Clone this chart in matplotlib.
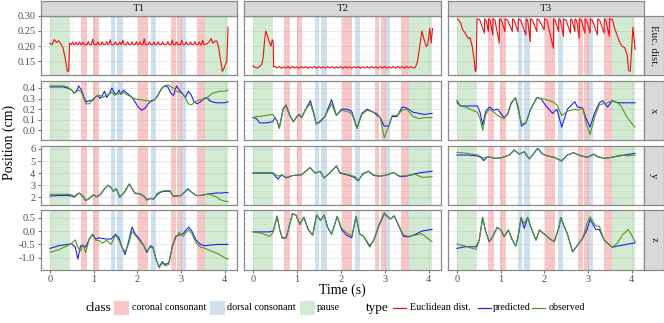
import matplotlib
matplotlib.use("Agg")
import matplotlib.pyplot as plt
from matplotlib.patches import Rectangle
from matplotlib.lines import Line2D
from matplotlib.ticker import MultipleLocator, FixedLocator

plt.rcParams['font.family'] = ['Liberation Serif', 'DejaVu Serif']

# ---------------- data ----------------
columns = ["T1", "T2", "T3"]
rows_lab = ["Euc. dist.", "x", "y", "z"]

coronal_start = [0.705, 0.995, 2.025, 2.78, 2.92, 3.375]
coronal_end = [0.84, 1.125, 2.25, 2.88, 3.025, 3.55]
dorsal_start = [1.41, 1.545, 2.32, 3.025]
dorsal_end = [1.50, 1.68, 2.43, 3.12]
pause_start = [0.0, 3.55]
pause_end = [0.45, 4.08]

# Euclidean distance
euc1_t = [0.00, 0.05, 0.10, 0.15, 0.20, 0.25, 0.30, 0.35, 0.40, 0.43, 0.45,
          0.49, 0.52, 0.55, 0.57, 0.60, 0.63, 0.65, 0.68, 0.71, 0.73, 0.76, 0.79,
          0.85, 0.88, 0.91, 0.95, 0.98, 1.01, 1.07, 1.10, 1.13, 1.17, 1.20, 1.23,
          1.27, 1.30, 1.33, 1.35, 1.38, 1.41, 1.47, 1.50, 1.53, 1.57, 1.60, 1.63,
          1.64, 1.67, 1.70, 1.75, 1.78, 1.81, 1.85, 1.88, 1.91, 1.95, 1.98, 2.01,
          2.03, 2.06, 2.09, 2.13, 2.16, 2.19, 2.25, 2.28, 2.31, 2.35, 2.38, 2.41,
          2.45, 2.48, 2.51, 2.55, 2.58, 2.61, 2.67, 2.70, 2.73, 2.77, 2.80, 2.83,
          2.87, 2.90, 2.93, 2.99, 3.02, 3.05, 3.09, 3.12, 3.15, 3.19, 3.22, 3.25,
          3.29, 3.32, 3.35, 3.39, 3.42, 3.45, 3.47, 3.50, 3.53,
          3.60, 3.65, 3.69, 3.73, 3.78, 3.82, 3.86, 3.90, 3.95, 3.98, 4.02, 4.05, 4.08]
euc1_v = [0.210, 0.205, 0.222, 0.212, 0.218, 0.208, 0.195, 0.160, 0.117, 0.118, 0.210,
          0.205, 0.214, 0.205, 0.205, 0.213, 0.205, 0.205, 0.214, 0.205, 0.205, 0.213, 0.205,
          0.205, 0.215, 0.205, 0.205, 0.223, 0.205, 0.205, 0.214, 0.205, 0.205, 0.214, 0.205,
          0.205, 0.215, 0.205, 0.205, 0.221, 0.205, 0.205, 0.214, 0.205, 0.205, 0.214, 0.205,
          0.205, 0.220, 0.205, 0.205, 0.214, 0.205, 0.205, 0.214, 0.205, 0.205, 0.215, 0.205,
          0.205, 0.214, 0.205, 0.205, 0.224, 0.205, 0.205, 0.214, 0.205, 0.205, 0.214, 0.205,
          0.205, 0.215, 0.205, 0.205, 0.214, 0.205, 0.205, 0.215, 0.205, 0.205, 0.220, 0.205,
          0.205, 0.214, 0.205, 0.205, 0.219, 0.205, 0.205, 0.214, 0.205, 0.205, 0.214, 0.205,
          0.205, 0.215, 0.205, 0.205, 0.214, 0.205, 0.205, 0.219, 0.205,
          0.208, 0.215, 0.225, 0.210, 0.216, 0.217, 0.200, 0.160, 0.117, 0.125, 0.140, 0.150, 0.262]

euc2_t = [0.00, 0.05, 0.10, 0.15, 0.20, 0.23, 0.26, 0.29, 0.33, 0.37, 0.41, 0.44, 0.46, 0.47,
          0.50, 0.55, 0.60, 0.65, 0.70, 0.75, 0.80, 0.85, 0.90, 0.95, 1.00, 1.05, 1.10,
          1.15, 1.20, 1.25, 1.30, 1.35, 1.40, 1.45, 1.50, 1.55, 1.60, 1.65, 1.70, 1.75,
          1.80, 1.85, 1.90, 1.95, 2.00, 2.05, 2.10, 2.15, 2.20, 2.25, 2.30, 2.35, 2.40,
          2.45, 2.50, 2.55, 2.60, 2.65, 2.70, 2.75, 2.80, 2.85, 2.90, 2.95, 3.00, 3.05,
          3.10, 3.15, 3.20, 3.25, 3.30, 3.35, 3.40, 3.45, 3.50, 3.55, 3.60, 3.65, 3.70,
          3.75, 3.80, 3.85, 3.90, 3.95, 3.98, 4.03, 4.06, 4.09]
euc2_v = [0.135, 0.130, 0.128, 0.133, 0.140, 0.160, 0.210, 0.250, 0.235, 0.215, 0.200, 0.221, 0.215, 0.132,
          0.133, 0.128, 0.133, 0.127, 0.132, 0.128, 0.133, 0.127, 0.133, 0.128, 0.132, 0.127, 0.133,
          0.128, 0.133, 0.127, 0.132, 0.128, 0.133, 0.127, 0.133, 0.128, 0.132, 0.127, 0.133, 0.128,
          0.133, 0.127, 0.132, 0.128, 0.133, 0.127, 0.133, 0.128, 0.132, 0.127, 0.133, 0.128, 0.133,
          0.127, 0.132, 0.128, 0.133, 0.127, 0.133, 0.128, 0.132, 0.127, 0.133, 0.128, 0.133, 0.127,
          0.132, 0.128, 0.133, 0.127, 0.133, 0.128, 0.132, 0.127, 0.133, 0.128, 0.133, 0.128, 0.130,
          0.150, 0.200, 0.250, 0.221, 0.199, 0.205, 0.259, 0.210, 0.258]

euc3_t = [0.01, 0.08, 0.13, 0.20, 0.26, 0.30, 0.35, 0.40, 0.42, 0.44, 0.46,
          0.52, 0.63, 0.635, 0.67, 0.72, 0.725, 0.76, 0.82, 0.825, 0.87, 0.97, 0.975,
          1.02, 1.10, 1.105, 1.16, 1.27, 1.275, 1.31, 1.40, 1.405, 1.46, 1.58, 1.585,
          1.62, 1.68, 1.685, 1.73, 1.83, 1.835, 1.88, 2.00, 2.005, 2.06, 2.21, 2.215,
          2.25, 2.33, 2.335, 2.37, 2.44, 2.445, 2.50, 2.60, 2.605, 2.64, 2.70, 2.705,
          2.74, 2.80, 2.805, 2.85, 2.93, 2.935, 2.97, 3.05, 3.055, 3.10, 3.22, 3.225,
          3.27, 3.37, 3.375, 3.41, 3.49, 3.495, 3.56,
          3.62, 3.68, 3.72, 3.78, 3.84, 3.90, 3.93, 3.97, 4.03, 4.08]
euc3_v = [0.290, 0.278, 0.255, 0.240, 0.225, 0.228, 0.200, 0.150, 0.117, 0.120, 0.290,
          0.288, 0.243, 0.290, 0.285, 0.248, 0.290, 0.285, 0.237, 0.290, 0.286, 0.210, 0.290,
          0.285, 0.248, 0.290, 0.286, 0.248, 0.290, 0.285, 0.248, 0.290, 0.285, 0.237, 0.290,
          0.285, 0.215, 0.290, 0.286, 0.248, 0.290, 0.286, 0.254, 0.290, 0.286, 0.193, 0.290,
          0.285, 0.248, 0.290, 0.285, 0.232, 0.290, 0.285, 0.243, 0.290, 0.285, 0.248, 0.290,
          0.285, 0.226, 0.290, 0.285, 0.243, 0.290, 0.285, 0.243, 0.290, 0.285, 0.237, 0.290,
          0.285, 0.243, 0.290, 0.285, 0.232, 0.290, 0.288,
          0.255, 0.232, 0.215, 0.200, 0.195, 0.170, 0.120, 0.117, 0.262, 0.190]

# T1 articulator positions
t1_x_t = [0, 0.1, 0.2, 0.3, 0.4, 0.5, 0.56, 0.62, 0.66, 0.72, 0.78, 0.83, 0.9, 0.97, 1.03, 1.1,
          1.15, 1.2, 1.25, 1.3, 1.35, 1.42, 1.48, 1.53, 1.58, 1.63, 1.68, 1.74, 1.8, 1.88, 1.95,
          2.02, 2.1, 2.18, 2.25, 2.32, 2.4, 2.47, 2.55, 2.62, 2.7, 2.77, 2.83, 2.9, 2.96, 3.03,
          3.1, 3.17, 3.24, 3.3, 3.37, 3.45, 3.52, 3.6, 3.66, 3.72, 3.8, 3.9, 4.0, 4.08]
t1_x_pred = [0.41, 0.41, 0.41, 0.41, 0.40, 0.38, 0.35, 0.38, 0.42, 0.38, 0.31, 0.27, 0.28, 0.28,
             0.31, 0.33, 0.30, 0.33, 0.37, 0.31, 0.34, 0.40, 0.35, 0.34, 0.38, 0.34, 0.38, 0.36,
             0.34, 0.31, 0.27, 0.22, 0.19, 0.21, 0.25, 0.28, 0.29, 0.33, 0.39, 0.42, 0.41, 0.35,
             0.33, 0.42, 0.38, 0.35, 0.31, 0.37, 0.33, 0.27, 0.25, 0.27, 0.30, 0.31, 0.28, 0.27,
             0.26, 0.26, 0.26, 0.27]
t1_x_obs = [0.42, 0.42, 0.42, 0.42, 0.41, 0.38, 0.35, 0.37, 0.38, 0.36, 0.30, 0.25, 0.25, 0.29,
            0.31, 0.33, 0.33, 0.31, 0.32, 0.33, 0.34, 0.36, 0.33, 0.34, 0.35, 0.34, 0.36, 0.34,
            0.33, 0.31, 0.30, 0.29, 0.29, 0.28, 0.28, 0.27, 0.29, 0.33, 0.39, 0.42, 0.43, 0.41,
            0.40, 0.37, 0.36, 0.35, 0.31, 0.25, 0.24, 0.26, 0.28, 0.29, 0.29, 0.31, 0.33, 0.35,
            0.36, 0.37, 0.37, 0.38]

t1_y_t = [0, 0.2, 0.4, 0.5, 0.56, 0.62, 0.67, 0.75, 0.82, 0.9, 1.0, 1.07, 1.15, 1.25, 1.33, 1.4,
          1.45, 1.52, 1.6, 1.7, 1.82, 1.9, 1.95, 2.05, 2.15, 2.22, 2.3, 2.38, 2.45, 2.55, 2.65,
          2.75, 2.82, 2.9, 3.0, 3.08, 3.16, 3.25, 3.35, 3.45, 3.6, 3.7, 3.8, 3.9, 4.0, 4.08]
t1_y_pred = [2.1, 2.15, 2.15, 2.1, 2.0, 2.25, 2.35, 2.1, 1.72, 1.9, 2.2, 2.05, 2.2, 2.7, 3.0, 2.8,
             2.5, 2.7, 2.0, 2.4, 3.1, 2.6, 2.3, 2.3, 2.1, 1.8, 1.9, 1.85, 2.2, 2.45, 2.5, 2.5,
             2.1, 2.1, 2.15, 2.4, 2.7, 2.4, 2.15, 2.15, 2.25, 2.3, 2.35, 2.35, 2.38, 2.38]
t1_y_obs = [2.25, 2.25, 2.25, 2.2, 2.05, 2.2, 2.35, 2.15, 1.75, 1.9, 2.2, 2.05, 2.2, 2.7, 3.0, 2.8,
            2.5, 2.7, 2.0, 2.4, 3.1, 2.6, 2.35, 2.3, 2.1, 1.75, 1.9, 1.85, 2.3, 2.5, 2.55, 2.55,
            2.1, 2.1, 2.15, 2.4, 2.65, 2.4, 2.15, 2.15, 2.25, 2.2, 2.05, 1.8, 1.68, 1.65]

t1_z_t = [0, 0.2, 0.4, 0.5, 0.58, 0.64, 0.7, 0.76, 0.82, 0.9, 0.98, 1.05, 1.12, 1.2, 1.3, 1.4,
          1.5, 1.58, 1.65, 1.72, 1.8, 1.88, 1.95, 2.05, 2.15, 2.22, 2.3, 2.36, 2.42, 2.5, 2.57,
          2.64, 2.72, 2.8, 2.88, 2.96, 3.05, 3.12, 3.18, 3.25, 3.35, 3.45, 3.55, 3.7, 3.85, 4.0, 4.08]
t1_z_pred = [-0.65, -0.55, -0.5, -0.48, -0.6, -1.05, -0.55, -0.55, -0.6, -0.3, -0.12, -0.3, -0.25,
             -0.28, -0.3, -0.3, -0.12, -0.25, -0.6, -0.88, -0.4, 0.15, -0.1, -0.3, -0.55, -0.8,
             -0.55, -0.6, -1.0, -1.35, -1.15, -1.25, -1.2, -0.6, -0.2, -0.15, -0.1, 0.05, 0.15,
             0.0, -0.35, -0.5, -0.55, -0.52, -0.5, -0.5, -0.5]
t1_z_obs = [-0.8, -0.7, -0.55, -0.45, -0.33, -0.6, -0.75, -0.5, -0.8, -0.3, -0.15, -0.35, -0.35,
            -0.45, -0.35, -0.5, -0.15, -0.35, -0.6, -0.78, -0.5, 0.0, -0.15, -0.35, -0.55, -0.75,
            -0.6, -0.65, -1.0, -1.38, -1.2, -1.3, -1.25, -0.6, -0.25, -0.05, -0.2, -0.05, 0.05,
            -0.1, -0.45, -0.6, -0.65, -0.75, -0.85, -1.0, -1.05]

# T2
t2_x_t = [0, 0.08, 0.15, 0.3, 0.45, 0.5, 0.55, 0.6, 0.69, 0.75, 0.84, 0.92, 1.0, 1.05, 1.11, 1.2,
          1.31, 1.38, 1.44, 1.53, 1.64, 1.79, 1.9, 2.02, 2.14, 2.25, 2.37, 2.48, 2.6, 2.75, 2.83,
          2.9, 2.99, 3.09, 3.17, 3.28, 3.4, 3.5, 3.65, 3.78, 3.9, 4.08]
t2_x_pred = [0.12, 0.11, 0.07, 0.07, 0.08, 0.12, 0.09, 0.02, 0.2, 0.24, 0.14, 0.08, 0.13, 0.15,
             0.12, 0.2, 0.28, 0.17, 0.06, 0.08, 0.13, 0.29, 0.14, 0.2, 0.2, 0.18, 0.02, 0.16, 0.2,
             0.17, 0.14, 0.12, 0.04, 0.04, 0.13, 0.13, 0.22, 0.21, 0.17, 0.16, 0.15, 0.16]
t2_x_obs = [0.12, 0.13, 0.13, 0.14, 0.15, 0.12, 0.09, 0.02, 0.21, 0.23, 0.14, 0.08, 0.13, 0.14,
            0.12, 0.2, 0.25, 0.16, 0.06, 0.09, 0.13, 0.25, 0.14, 0.19, 0.18, 0.16, 0.02, 0.15,
            0.19, 0.17, 0.16, 0.12, -0.07, 0.03, 0.14, 0.14, 0.19, 0.2, 0.13, 0.11, 0.12, 0.12]

t2_y_t = [0, 0.3, 0.45, 0.57, 0.65, 0.76, 0.9, 1.1, 1.3, 1.42, 1.53, 1.62, 1.75, 1.9, 1.98, 2.2,
          2.33, 2.4, 2.5, 2.63, 2.75, 2.9, 3.05, 3.2, 3.35, 3.5, 3.7, 3.85, 4.08]
t2_y_pred = [4.0, 4.0, 4.0, 3.5, 3.85, 3.6, 3.8, 3.85, 4.45, 4.0, 4.15, 3.6, 4.0, 4.6, 4.0, 3.8,
             3.6, 3.35, 3.95, 4.15, 3.8, 3.75, 3.85, 4.05, 3.7, 3.75, 3.95, 4.05, 4.15]
t2_y_obs = [4.05, 4.05, 4.05, 3.75, 3.85, 3.65, 3.8, 3.85, 4.45, 4.0, 4.15, 3.6, 4.0, 4.6, 4.05,
            3.85, 3.7, 3.4, 3.9, 4.15, 3.85, 3.75, 3.85, 4.05, 3.75, 3.8, 3.9, 3.65, 3.7]

t2_z_t = [0, 0.2, 0.38, 0.46, 0.55, 0.61, 0.67, 0.76, 0.9, 0.98, 1.07, 1.16, 1.26, 1.36, 1.45,
          1.54, 1.62, 1.7, 1.79, 1.92, 2.02, 2.13, 2.25, 2.35, 2.43, 2.52, 2.66, 2.75, 2.86, 2.99,
          3.13, 3.22, 3.32, 3.43, 3.55, 3.7, 3.85, 4.0, 4.08]
t2_z_pred = [-0.03, -0.03, -0.03, 0.0, 0.55, 0.05, -0.27, -0.25, 0.65, 0.6, 0.25, 0.52, 0.05,
             -0.15, 0.6, 0.4, 0.6, 0.15, -0.12, 0.55, 0.05, -0.15, -0.25, 0.55, -0.1, -0.2, -0.55,
             -0.35, 0.15, 0.65, 0.45, 0.57, 0.2, -0.2, -0.22, -0.12, 0.0, 0.04, 0.06]
t2_z_obs = [-0.03, -0.08, -0.2, -0.05, 0.57, 0.05, -0.27, -0.22, 0.66, 0.6, 0.25, 0.5, 0.05,
            -0.15, 0.6, 0.4, 0.6, 0.15, -0.12, 0.55, 0.1, -0.05, -0.2, 0.55, -0.1, -0.2, -0.6,
            -0.35, 0.2, 0.68, 0.45, 0.57, 0.22, -0.15, -0.2, -0.15, -0.1, -0.3, -0.4]

# T3
t3_x_t = [0, 0.08, 0.2, 0.35, 0.47, 0.53, 0.59, 0.66, 0.74, 0.85, 0.93, 1.08, 1.16, 1.24, 1.34,
          1.40, 1.48, 1.58, 1.69, 1.83, 1.92, 2.04, 2.19, 2.29, 2.40, 2.53, 2.70, 2.76, 2.88,
          2.95, 3.05, 3.15, 3.26, 3.34, 3.45, 3.56, 3.68, 3.76, 3.87, 3.99, 4.08]
t3_x_pred = [0.28, 0.23, 0.23, 0.23, 0.23, 0.17, 0.05, 0.18, 0.22, 0.19, 0.2, 0.12, 0.15, 0.25,
             0.31, 0.22, 0.04, 0.07, 0.2, 0.31, 0.30, 0.23, 0.16, 0.2, 0.03, 0.2, 0.27, 0.22,
             0.21, 0.12, 0.03, 0.16, 0.26, 0.28, 0.22, 0.28, 0.26, 0.26, 0.26, 0.26, 0.26]
t3_x_obs = [0.26, 0.23, 0.22, 0.19, 0.17, 0.11, 0.0, 0.15, 0.2, 0.17, 0.14, 0.11, 0.16, 0.26,
            0.31, 0.2, 0.06, 0.07, 0.2, 0.31, 0.30, 0.29, 0.27, 0.24, 0.14, 0.18, 0.2, 0.19,
            0.21, 0.08, -0.04, 0.12, 0.24, 0.25, 0.26, 0.28, 0.26, 0.23, 0.14, 0.07, 0.03]

t3_y_t = [0, 0.24, 0.47, 0.55, 0.61, 0.70, 0.89, 1.05, 1.20, 1.31, 1.43, 1.54, 1.66, 1.73, 1.85,
          1.96, 2.08, 2.23, 2.40, 2.53, 2.67, 2.84, 2.99, 3.13, 3.22, 3.37, 3.53, 3.76, 3.91, 4.08]
t3_y_pred = [5.5, 5.5, 5.42, 5.3, 5.03, 5.36, 5.22, 5.3, 5.5, 5.91, 5.58, 5.77, 5.17, 5.5, 6.05,
             5.58, 5.42, 5.3, 5.0, 5.5, 5.69, 5.42, 5.3, 5.58, 5.36, 5.22, 5.3, 5.45, 5.55, 5.64]
t3_y_obs = [5.72, 5.64, 5.5, 5.36, 5.22, 5.36, 5.22, 5.3, 5.5, 5.91, 5.58, 5.77, 5.17, 5.5, 6.05,
            5.58, 5.42, 5.3, 5.03, 5.5, 5.69, 5.45, 5.3, 5.55, 5.36, 5.22, 5.3, 5.5, 5.42, 5.5]

t3_z_t = [0, 0.17, 0.44, 0.51, 0.59, 0.65, 0.74, 0.82, 0.92, 1.01, 1.08, 1.18, 1.27, 1.35, 1.40,
          1.47, 1.54, 1.62, 1.69, 1.81, 1.89, 2.0, 2.11, 2.23, 2.34, 2.38, 2.46, 2.53, 2.65, 2.76,
          2.88, 2.98, 3.05, 3.18, 3.26, 3.37, 3.56, 3.68, 3.79, 3.92, 3.98, 4.08]
t3_z_pred = [-0.65, -0.59, -0.59, -0.34, 0.51, 0.04, -0.40, -0.21, 0.14, 0.04, -0.21, 0.04, -0.34,
             -0.56, -0.21, 0.51, 0.10, 0.51, 0.16, -0.34, 0.04, -0.11, -0.27, -0.40, 0.16, 0.51,
             0.16, -0.11, -0.78, -0.53, -0.27, 0.06, 0.44, 0.06, 0.06, -0.34, -0.61, -0.56, -0.53,
             -0.49, -0.47, -0.44]
t3_z_obs = [-0.49, -0.55, -0.69, -0.34, 0.51, 0.04, -0.40, -0.21, 0.14, 0.04, -0.21, 0.04, -0.34,
            -0.56, -0.21, 0.51, 0.29, 0.51, 0.16, -0.34, 0.04, -0.11, -0.27, -0.40, 0.16, 0.51,
            0.16, -0.11, -0.78, -0.53, -0.27, 0.29, 0.54, 0.19, 0.19, -0.34, -0.61, -0.44, -0.15,
            0.06, -0.09, -0.40]

# y-axis ticks per row
row_ticks = [[0.15, 0.20, 0.25, 0.30], [0.0, 0.1, 0.2, 0.3, 0.4], [2, 3, 4, 5, 6], [-1.0, -0.5, 0.0, 0.5]]
row_ticklabels = [["0.15", "0.20", "0.25", "0.30"], ["0.0", "0.1", "0.2", "0.3", "0.4"],
                  ["2", "3", "4", "5", "6"], ["-1.0", "-0.5", "0.0", "0.5"]]
x_ticks = [0, 1, 2, 3, 4]

# ---------------- styling ----------------
C_COR = '#e41a1c'
C_DOR = '#377eb8'
C_PAU = '#4daf4a'
BAND_ALPHA = 0.24
C_EUC = '#ee1111'
C_PRED = '#2222ee'
C_OBS = '#4f9a1f'
BORDER = '#8a8a8a'
STRIP = '#d9d9d9'

W, H = 664, 323
fig = plt.figure(figsize=(W / 100, H / 100), dpi=100)


def px_axes(l, t, r, b):
    return fig.add_axes([l / W, 1 - b / H, (r - l) / W, (b - t) / H])


col_px = [(41, 237), (244, 441), (448, 644)]
row_px = [(15.5, 75), (80.7, 140), (145.7, 205), (210, 269.5)]
row_lims = [(0.105, 0.301), (-0.092, 0.469), (1.36, 6.27), (-1.44, 0.79)]
row_minor = [0.025, 0.05, 0.5, 0.25]
xlim = (-0.204, 4.284)

euc = [(euc1_t, euc1_v), (euc2_t, euc2_v), (euc3_t, euc3_v)]
pos = [
    [(t1_x_t, t1_x_pred, t1_x_obs), (t1_y_t, t1_y_pred, t1_y_obs), (t1_z_t, t1_z_pred, t1_z_obs)],
    [(t2_x_t, t2_x_pred, t2_x_obs), (t2_y_t, t2_y_pred, t2_y_obs), (t2_z_t, t2_z_pred, t2_z_obs)],
    [(t3_x_t, t3_x_pred, t3_x_obs), (t3_y_t, t3_y_pred, t3_y_obs), (t3_z_t, t3_z_pred, t3_z_obs)],
]

for ci, (cl, cr) in enumerate(col_px):
    for ri, (rt, rb) in enumerate(row_px):
        ax = px_axes(cl, rt, cr, rb)
        ax.set_xlim(*xlim)
        ax.set_ylim(*row_lims[ri])
        ax.set_facecolor('white')
        for s in ax.spines.values():
            s.set_color(BORDER)
            s.set_linewidth(0.9)
        ax.xaxis.set_major_locator(FixedLocator(x_ticks))
        ax.xaxis.set_minor_locator(MultipleLocator(0.5))
        ax.yaxis.set_major_locator(FixedLocator(row_ticks[ri]))
        ax.yaxis.set_minor_locator(MultipleLocator(row_minor[ri]))
        ax.grid(which='major', color='#e6e6e6', lw=0.6, zorder=0)
        ax.grid(which='minor', color='#f3f3f3', lw=0.4, zorder=0)
        ax.set_axisbelow(True)
        ax.tick_params(which='minor', length=0)
        ax.tick_params(which='major', length=2.5, width=0.6, color='#555555',
                       labelsize=7.5, labelcolor='#4d4d4d', pad=1.5)
        if ci == 0:
            ax.set_yticklabels(row_ticklabels[ri])
        else:
            ax.tick_params(axis='y', which='both', left=False, labelleft=False)
        if ri == 3:
            ax.set_xticklabels([str(v) for v in x_ticks])
        else:
            ax.tick_params(axis='x', which='both', bottom=False, labelbottom=False)

        for a, b in zip(coronal_start, coronal_end):
            ax.axvspan(a, b, color=C_COR, alpha=BAND_ALPHA, lw=0, zorder=1)
        for a, b in zip(dorsal_start, dorsal_end):
            ax.axvspan(a, b, color=C_DOR, alpha=BAND_ALPHA, lw=0, zorder=1)
        for a, b in zip(pause_start, pause_end):
            ax.axvspan(a, b, color=C_PAU, alpha=BAND_ALPHA, lw=0, zorder=1)

        if ri == 0:
            tt, vv = euc[ci]
            ax.plot(tt, vv, color=C_EUC, lw=0.8, zorder=3)
        else:
            tt, pp, oo = pos[ci][ri - 1]
            ax.plot(tt, pp, color=C_PRED, lw=0.8, zorder=3)
            ax.plot(tt, oo, color=C_OBS, lw=0.8, zorder=4)

    # top strip
    sax = px_axes(cl, 1, cr, 15.5)
    sax.set_facecolor(STRIP)
    sax.set_xticks([]); sax.set_yticks([])
    for s in sax.spines.values():
        s.set_color(BORDER); s.set_linewidth(0.9)
    sax.text(0.5, 0.5, columns[ci], transform=sax.transAxes, ha='center', va='center',
             fontsize=7.8, color='#1a1a1a')

for ri, (rt, rb) in enumerate(row_px):
    sax = px_axes(644, rt, 663.5, rb)
    sax.set_facecolor(STRIP)
    sax.set_xticks([]); sax.set_yticks([])
    for s in sax.spines.values():
        s.set_color(BORDER); s.set_linewidth(0.9)
    sax.text(0.5, 0.5, rows_lab[ri], transform=sax.transAxes, ha='center', va='center',
             rotation=-90, fontsize=7.8, color='#1a1a1a')

# axis titles
fig.text(342.5 / W, 1 - 290 / H, "Time (s)", ha='center', va='center', fontsize=10)
fig.text(9 / W, 1 - 142.5 / H, "Position (cm)", ha='center', va='center', rotation=90, fontsize=10)

# legend (manual, figure pixels)
ly = 308


def fx(x):
    return x / W


def fy(y):
    return 1 - y / H


fig.text(fx(85), fy(ly), "class", ha='left', va='center', fontsize=9.5)
fig.text(fx(366), fy(ly), "type", ha='left', va='center', fontsize=9.5)
class_items = [("coronal consonant", C_COR, 114, 132), ("dorsal consonant", C_DOR, 209.5, 227),
               ("pause", C_PAU, 300, 317)]
for lab, col, sx, tx in class_items:
    fig.patches.append(Rectangle((fx(sx), fy(ly + 7)), 15 / W, 14 / H, transform=fig.transFigure,
                                 facecolor=col, alpha=BAND_ALPHA, lw=0))
    fig.text(fx(tx), fy(ly), lab, ha='left', va='center', fontsize=7.3)
type_items = [("Euclidean dist.", C_EUC, 392, 410), ("predicted", C_PRED, 477, 493),
              ("observed", C_OBS, 531, 549)]
for lab, col, sx, tx in type_items:
    fig.lines.append(Line2D([fx(sx + 1), fx(sx + 14)], [fy(ly), fy(ly)], transform=fig.transFigure,
                            color=col, lw=0.9))
    fig.text(fx(tx), fy(ly), lab, ha='left', va='center', fontsize=7.3)

fig.savefig("out.png", dpi=100)
